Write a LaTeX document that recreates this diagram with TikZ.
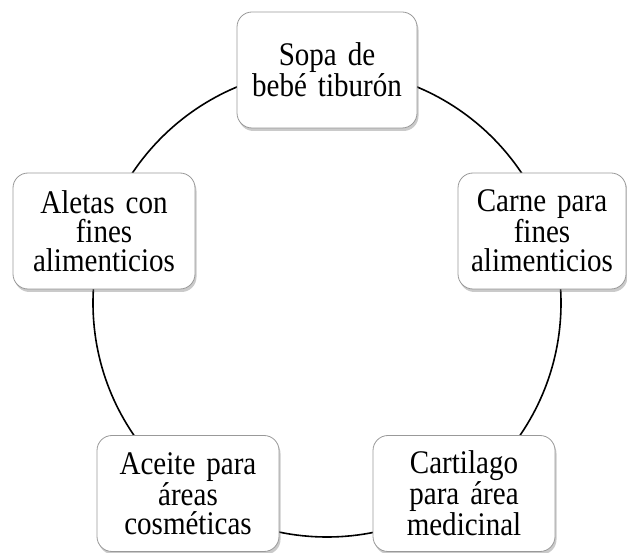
\documentclass[tikz,border=0pt]{standalone}
\usepackage{fontspec}
\setmainfont{Liberation Serif}
\newfontfamily\boxfont[FakeStretch=0.88,WordSpace=0.8]{Liberation Serif}
\usetikzlibrary{shadows}
\tikzset{
  cyclebox/.style={draw=black!40, line width=0.8pt, fill=white, rounded corners=15pt,
    minimum height=116pt, inner sep=2pt, align=center,
    font=\boxfont\fontsize{33}{29}\selectfont,
    drop shadow={shadow xshift=1.5pt, shadow yshift=-3pt, opacity=0.35, fill=black!60}},
  ring/.style={draw=black, line width=1.6pt}
}
\begin{document}
\begin{tikzpicture}[x=1pt,y=-1pt]
\useasboundingbox (0,0) rectangle (627,553);
\coordinate (c) at (327,303);
\draw[ring] (c) circle (234pt);
\node[cyclebox, minimum width=180pt, text width=172pt] (sopa) at (327,70) {Sopa de\\bebé tiburón};
\node[cyclebox, minimum width=168pt, text width=162pt] (carne) at (542,231) {Carne para\\fines\\alimenticios};
\node[cyclebox, minimum width=182pt, text width=174pt] (cart) at (464,493.5) {Cartilago\\para área\\medicinal};
\node[cyclebox, minimum width=182pt, text width=174pt] (aceite) at (188,493.5) {Aceite para\\áreas\\cosméticas};
\node[cyclebox, minimum width=182pt, text width=174pt] (aletas) at (104,231) {Aletas con\\fines\\alimenticios};
\end{tikzpicture}
\end{document}
